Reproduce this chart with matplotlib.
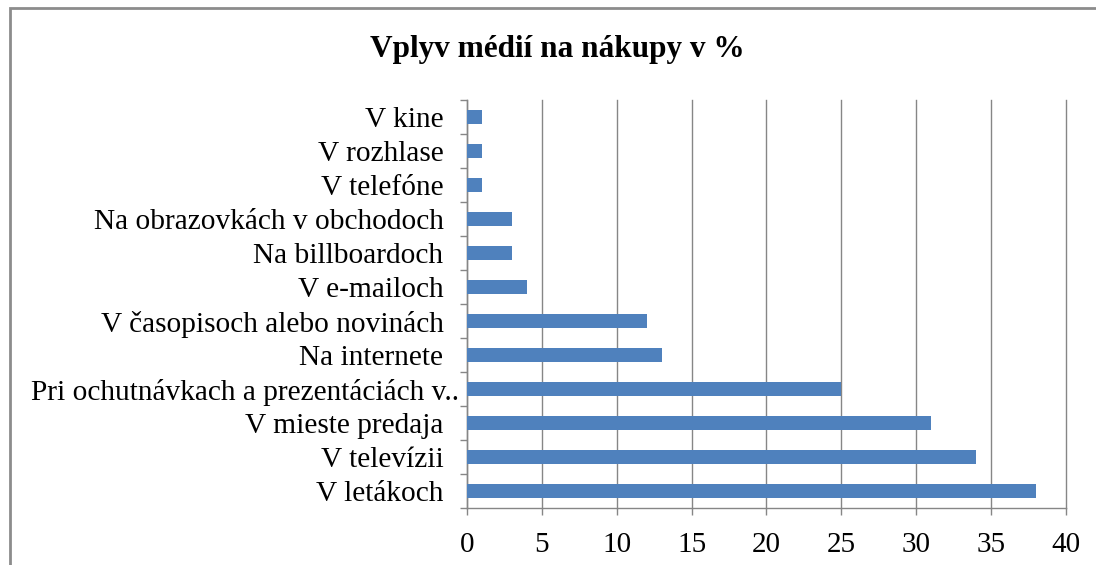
import matplotlib
matplotlib.use("Agg")
import matplotlib.pyplot as plt
import matplotlib.transforms as mtransforms
from matplotlib.patches import Rectangle
import numpy as np

title = "Vplyv médií na nákupy v %"
categories = ["V letákoch", "V televízii", "V mieste predaja",
              "Pri ochutnávkach a prezentáciách v..", "Na internete",
              "V časopisoch alebo novinách", "V e-mailoch", "Na billboardoch",
              "Na obrazovkách v obchodoch", "V telefóne", "V rozhlase", "V kine"]
values = [38, 34, 31, 25, 13, 12, 4, 3, 3, 1, 1, 1]
xticks = [0, 5, 10, 15, 20, 25, 30, 35, 40]

W, H = 1096, 565
fig = plt.figure(figsize=(W / 100, H / 100), dpi=100)
fig.patch.set_facecolor("white")

serif = ["Liberation Serif", "DejaVu Serif"]
gray = "#868686"

ax = fig.add_axes([467 / W, 1 - 508 / H, (1066 - 467) / W, (508 - 100) / H])
y = np.arange(len(categories))
ax.barh(y, values, height=0.4, color="#4F81BD", zorder=3)
ax.set_xlim(0, 40)
ax.set_ylim(-0.5, len(categories) - 0.5)
ax.set_xticks(xticks)
ax.set_xticklabels([str(t) for t in xticks], fontfamily=serif, fontsize=21)
ax.set_yticks(y)
ax.set_yticklabels(categories, fontfamily=serif, fontsize=21.2)
ax.set_yticks(np.arange(len(categories) + 1) - 0.5, minor=True)
ax.tick_params(axis="y", which="major", length=0, pad=17)
ax.tick_params(axis="y", which="minor", length=5, width=1, color=gray, direction="out")
ax.tick_params(axis="x", which="major", length=5, width=1, color=gray, direction="out", pad=12)
ax.xaxis.grid(True, color=gray, linewidth=1, zorder=0)
for gl in ax.get_xgridlines():
    gl.set_clip_on(False)
for s in ["top", "right"]:
    ax.spines[s].set_visible(False)
for s in ["left", "bottom"]:
    ax.spines[s].set_color(gray)
    ax.spines[s].set_linewidth(1)

# long label sits closer to the axis
lbl = ax.get_yticklabels()[3]
lbl.set_transform(lbl.get_transform() + mtransforms.ScaledTranslation(16 / 100, 0, fig.dpi_scale_trans))

fig.text(557 / W, 1 - 50 / H, title, ha="center", va="center",
         fontfamily=serif, fontsize=22.5, fontweight="bold")

# outer chart border (partially cropped)
fig.patches.append(Rectangle((10 / W, -0.1), 1.2, 1 - 8 / H + 0.1, transform=fig.transFigure,
                             fill=False, edgecolor="#8c8c8c", linewidth=2))

fig.savefig("out.png", dpi=100)
